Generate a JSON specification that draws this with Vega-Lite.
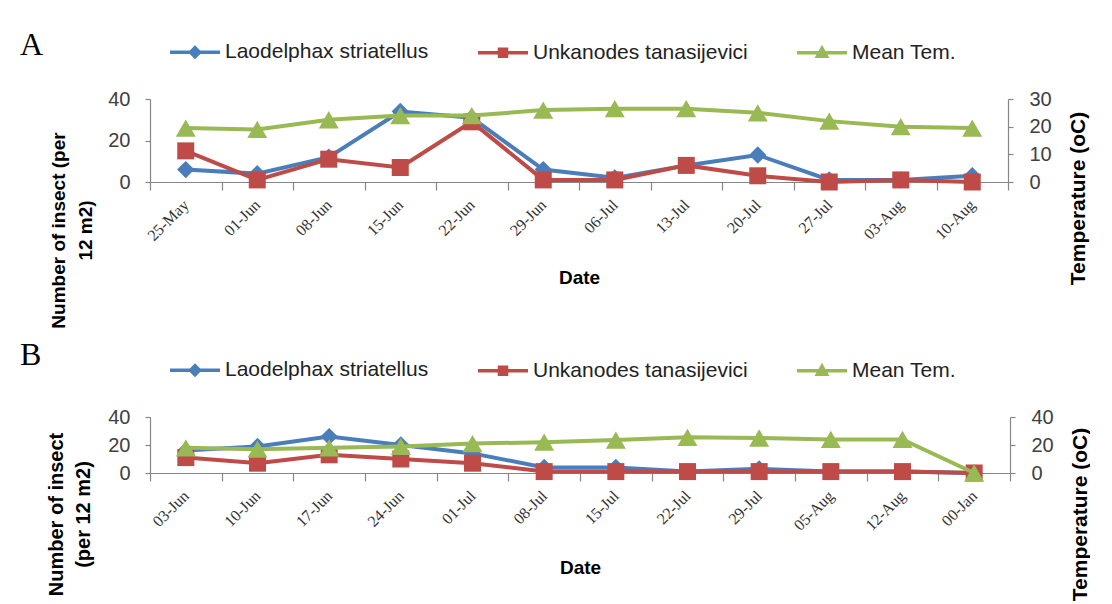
{
  "$schema": "https://vega.github.io/schema/vega-lite/v6.json",
  "background": "white",
  "padding": {"left": 20, "top": 25, "right": 0, "bottom": 0},
  "config": {
    "view": {"stroke": null},
    "font": "Liberation Sans",
    "axis": {"domainColor": "#868686", "tickColor": "#868686", "grid": false, "labelColor": "#404040", "titleColor": "#000000", "domainWidth": 1.2, "tickWidth": 1.2}
  },
  "datasets": {
    "a": [
      {"date": "25-May", "series": "Laodelphax striatellus", "value": 6},
      {"date": "01-Jun", "series": "Laodelphax striatellus", "value": 4},
      {"date": "08-Jun", "series": "Laodelphax striatellus", "value": 12},
      {"date": "15-Jun", "series": "Laodelphax striatellus", "value": 34},
      {"date": "22-Jun", "series": "Laodelphax striatellus", "value": 31},
      {"date": "29-Jun", "series": "Laodelphax striatellus", "value": 6},
      {"date": "06-Jul", "series": "Laodelphax striatellus", "value": 2},
      {"date": "13-Jul", "series": "Laodelphax striatellus", "value": 8},
      {"date": "20-Jul", "series": "Laodelphax striatellus", "value": 13},
      {"date": "27-Jul", "series": "Laodelphax striatellus", "value": 1},
      {"date": "03-Aug", "series": "Laodelphax striatellus", "value": 1},
      {"date": "10-Aug", "series": "Laodelphax striatellus", "value": 3},
      {"date": "25-May", "series": "Unkanodes tanasijevici", "value": 15},
      {"date": "01-Jun", "series": "Unkanodes tanasijevici", "value": 1},
      {"date": "08-Jun", "series": "Unkanodes tanasijevici", "value": 11},
      {"date": "15-Jun", "series": "Unkanodes tanasijevici", "value": 7},
      {"date": "22-Jun", "series": "Unkanodes tanasijevici", "value": 29},
      {"date": "29-Jun", "series": "Unkanodes tanasijevici", "value": 1},
      {"date": "06-Jul", "series": "Unkanodes tanasijevici", "value": 1},
      {"date": "13-Jul", "series": "Unkanodes tanasijevici", "value": 8},
      {"date": "20-Jul", "series": "Unkanodes tanasijevici", "value": 3},
      {"date": "27-Jul", "series": "Unkanodes tanasijevici", "value": 0},
      {"date": "03-Aug", "series": "Unkanodes tanasijevici", "value": 1},
      {"date": "10-Aug", "series": "Unkanodes tanasijevici", "value": 0},
      {"date": "25-May", "series": "Mean Tem.", "value": 19.5},
      {"date": "01-Jun", "series": "Mean Tem.", "value": 19},
      {"date": "08-Jun", "series": "Mean Tem.", "value": 22.5},
      {"date": "15-Jun", "series": "Mean Tem.", "value": 24},
      {"date": "22-Jun", "series": "Mean Tem.", "value": 24},
      {"date": "29-Jun", "series": "Mean Tem.", "value": 26},
      {"date": "06-Jul", "series": "Mean Tem.", "value": 26.5},
      {"date": "13-Jul", "series": "Mean Tem.", "value": 26.5},
      {"date": "20-Jul", "series": "Mean Tem.", "value": 25},
      {"date": "27-Jul", "series": "Mean Tem.", "value": 22},
      {"date": "03-Aug", "series": "Mean Tem.", "value": 20},
      {"date": "10-Aug", "series": "Mean Tem.", "value": 19.5}
    ],
    "b": [
      {"date": "03-Jun", "series": "Laodelphax striatellus", "value": 16},
      {"date": "10-Jun", "series": "Laodelphax striatellus", "value": 19},
      {"date": "17-Jun", "series": "Laodelphax striatellus", "value": 26},
      {"date": "24-Jun", "series": "Laodelphax striatellus", "value": 20},
      {"date": "01-Jul", "series": "Laodelphax striatellus", "value": 14},
      {"date": "08-Jul", "series": "Laodelphax striatellus", "value": 4},
      {"date": "15-Jul", "series": "Laodelphax striatellus", "value": 4},
      {"date": "22-Jul", "series": "Laodelphax striatellus", "value": 1},
      {"date": "29-Jul", "series": "Laodelphax striatellus", "value": 3},
      {"date": "05-Aug", "series": "Laodelphax striatellus", "value": 1},
      {"date": "12-Aug", "series": "Laodelphax striatellus", "value": 1},
      {"date": "00-Jan", "series": "Laodelphax striatellus", "value": 0},
      {"date": "03-Jun", "series": "Unkanodes tanasijevici", "value": 11},
      {"date": "10-Jun", "series": "Unkanodes tanasijevici", "value": 7},
      {"date": "17-Jun", "series": "Unkanodes tanasijevici", "value": 13},
      {"date": "24-Jun", "series": "Unkanodes tanasijevici", "value": 10},
      {"date": "01-Jul", "series": "Unkanodes tanasijevici", "value": 7},
      {"date": "08-Jul", "series": "Unkanodes tanasijevici", "value": 1},
      {"date": "15-Jul", "series": "Unkanodes tanasijevici", "value": 1},
      {"date": "22-Jul", "series": "Unkanodes tanasijevici", "value": 1},
      {"date": "29-Jul", "series": "Unkanodes tanasijevici", "value": 1},
      {"date": "05-Aug", "series": "Unkanodes tanasijevici", "value": 1},
      {"date": "12-Aug", "series": "Unkanodes tanasijevici", "value": 1},
      {"date": "00-Jan", "series": "Unkanodes tanasijevici", "value": 0},
      {"date": "03-Jun", "series": "Mean Tem.", "value": 18},
      {"date": "10-Jun", "series": "Mean Tem.", "value": 17},
      {"date": "17-Jun", "series": "Mean Tem.", "value": 18},
      {"date": "24-Jun", "series": "Mean Tem.", "value": 19},
      {"date": "01-Jul", "series": "Mean Tem.", "value": 21},
      {"date": "08-Jul", "series": "Mean Tem.", "value": 22},
      {"date": "15-Jul", "series": "Mean Tem.", "value": 23.5},
      {"date": "22-Jul", "series": "Mean Tem.", "value": 25.5},
      {"date": "29-Jul", "series": "Mean Tem.", "value": 25},
      {"date": "05-Aug", "series": "Mean Tem.", "value": 24},
      {"date": "12-Aug", "series": "Mean Tem.", "value": 24},
      {"date": "00-Jan", "series": "Mean Tem.", "value": 0}
    ]
  },
  "spacing": 8,
  "resolve": {
    "scale": {"x": "independent", "y": "independent", "color": "independent"},
    "legend": {"color": "independent"}
  },
  "vconcat": [
    {
      "data": {"name": "a"},
      "width": 858,
      "height": 83,
      "title": {"text": "A", "anchor": "start", "frame": "group", "font": "Liberation Serif", "fontSize": 32, "fontWeight": "normal", "color": "#000000", "dx": -130, "dy": 41},
      "encoding": {
        "x": {
          "field": "date", "type": "ordinal", "bandPosition": 0.5,
          "scale": {"type": "band", "paddingInner": 0, "paddingOuter": 0, "domain": ["25-May", "01-Jun", "08-Jun", "15-Jun", "22-Jun", "29-Jun", "06-Jul", "13-Jul", "20-Jul", "27-Jul", "03-Aug", "10-Aug"]},
          "axis": {"title": "Date", "titleFontSize": 19, "titleFontWeight": "bold", "titleY": 95, "titleBaseline": "middle", "labelAngle": -45, "labelAlign": "right", "labelBaseline": "middle", "labelFont": "Liberation Serif", "labelFontSize": 16, "labelColor": "#333333", "labelPadding": 12, "tickBand": "extent", "tickSize": 8, "labelOverlap": false}
        },
        "color": {"field": "series", "type": "nominal", "scale": {"domain": ["Laodelphax striatellus", "Unkanodes tanasijevici", "Mean Tem."], "range": ["#4A7EBB", "#BE4B48", "#98B954"]}, "legend": null}
      },
      "layer": [
        {
          "transform": [{"filter": "datum.series !== 'Mean Tem.'"}],
          "encoding": {
            "y": {"field": "value", "type": "quantitative", "scale": {"domain": [0, 40]},
              "axis": {"orient": "left", "values": [0, 20, 40], "title": ["Number of  insect (per", "12 m2)"], "titleFontSize": 19, "titleFontWeight": "bold", "titleY": 131, "titlePadding": 12, "titleLineHeight": 27, "labelFontSize": 20, "labelPadding": 15, "tickSize": 5}
            }
          },
          "layer": [
            {"mark": {"type": "line", "strokeWidth": 4},
             "encoding": {"color": {"field": "series", "type": "nominal", "legend": {
               "orient": "none", "legendX": 18, "legendY": -74, "direction": "horizontal", "title": null,
               "labelFont": "Liberation Sans", "labelFontSize": 21, "labelColor": "#222222", "labelOffset": 3, "labelLimit": 0,
               "symbolSize": 2500, "symbolStrokeWidth": 3.5, "columnPadding": 42,
               "encode": {"symbols": {"update": {
                 "shape": {"signal": "datum.value === 'Laodelphax striatellus' ? 'M-1,0H1M0,-0.18L0.18,0L0,0.18L-0.18,0Z' : datum.value === 'Unkanodes tanasijevici' ? 'M-1,0H1M-0.14,-0.14H0.14V0.14H-0.14Z' : 'M-1,0H1M0,-0.18L0.18,0.14H-0.18Z'"},
                 "fill": {"signal": "datum.value === 'Laodelphax striatellus' ? '#4A7EBB' : datum.value === 'Unkanodes tanasijevici' ? '#BE4B48' : '#98B954'"},
                 "stroke": {"signal": "datum.value === 'Laodelphax striatellus' ? '#4A7EBB' : datum.value === 'Unkanodes tanasijevici' ? '#BE4B48' : '#98B954'"},
                 "opacity": {"value": 1}
               }}}
             }}}},
            {"transform": [{"filter": "datum.series === 'Laodelphax striatellus'"}],
             "mark": {"type": "point", "filled": true, "opacity": 1, "strokeWidth": 0, "shape": "diamond", "size": 300}},
            {"transform": [{"filter": "datum.series === 'Unkanodes tanasijevici'"}],
             "mark": {"type": "point", "filled": true, "opacity": 1, "strokeWidth": 0, "shape": "square", "size": 289}}
          ]
        },
        {
          "transform": [{"filter": "datum.series === 'Mean Tem.'"}],
          "encoding": {
            "y": {"field": "value", "type": "quantitative", "scale": {"domain": [0, 30]},
              "axis": {"orient": "right", "values": [0, 10, 20, 30], "title": "Temperature (oC)", "titleAngle": -90, "titleAlign": "center", "titleBaseline": "bottom", "titleX": 80, "titleFontSize": 21, "titleFontWeight": "bold", "titleY": 99, "labelFontSize": 20, "labelPadding": 16, "tickSize": 5}
            }
          },
          "layer": [
            {"mark": {"type": "line", "strokeWidth": 4}},
            {"mark": {"type": "point", "filled": true, "opacity": 1, "strokeWidth": 0, "shape": "triangle-up", "size": 400}}
          ]
        }
      ],
      "resolve": {"scale": {"y": "independent"}}
    },
    {
      "data": {"name": "b"},
      "width": 860,
      "height": 56,
      "title": {"text": "B", "anchor": "start", "frame": "group", "font": "Liberation Serif", "fontSize": 32, "fontWeight": "normal", "color": "#000000", "dx": -130, "dy": 33},
      "encoding": {
        "x": {
          "field": "date", "type": "ordinal", "bandPosition": 0.5,
          "scale": {"type": "band", "paddingInner": 0, "paddingOuter": 0, "domain": ["03-Jun", "10-Jun", "17-Jun", "24-Jun", "01-Jul", "08-Jul", "15-Jul", "22-Jul", "29-Jul", "05-Aug", "12-Aug", "00-Jan"]},
          "axis": {"title": "Date", "titleFontSize": 19, "titleFontWeight": "bold", "titleY": 94, "titleBaseline": "middle", "labelAngle": -45, "labelAlign": "right", "labelBaseline": "middle", "labelFont": "Liberation Serif", "labelFontSize": 16, "labelColor": "#333333", "labelPadding": 12, "tickBand": "extent", "tickSize": 8, "labelOverlap": false}
        },
        "color": {"field": "series", "type": "nominal", "scale": {"domain": ["Laodelphax striatellus", "Unkanodes tanasijevici", "Mean Tem."], "range": ["#4A7EBB", "#BE4B48", "#98B954"]}, "legend": null}
      },
      "layer": [
        {
          "transform": [{"filter": "datum.series !== 'Mean Tem.'"}],
          "encoding": {
            "y": {"field": "value", "type": "quantitative", "scale": {"domain": [0, 40]},
              "axis": {"orient": "left", "values": [0, 20, 40], "title": ["Number of  insect", "(per 12 m2)"], "titleFontSize": 20, "titleFontWeight": "bold", "titleY": 97, "titlePadding": 14, "titleLineHeight": 27, "labelFontSize": 20, "labelPadding": 15, "tickSize": 5}
            }
          },
          "layer": [
            {"mark": {"type": "line", "strokeWidth": 4},
             "encoding": {"color": {"field": "series", "type": "nominal", "legend": {
               "orient": "none", "legendX": 18, "legendY": -74, "direction": "horizontal", "title": null,
               "labelFont": "Liberation Sans", "labelFontSize": 21, "labelColor": "#222222", "labelOffset": 3, "labelLimit": 0,
               "symbolSize": 2500, "symbolStrokeWidth": 3.5, "columnPadding": 42,
               "encode": {"symbols": {"update": {
                 "shape": {"signal": "datum.value === 'Laodelphax striatellus' ? 'M-1,0H1M0,-0.18L0.18,0L0,0.18L-0.18,0Z' : datum.value === 'Unkanodes tanasijevici' ? 'M-1,0H1M-0.14,-0.14H0.14V0.14H-0.14Z' : 'M-1,0H1M0,-0.18L0.18,0.14H-0.18Z'"},
                 "fill": {"signal": "datum.value === 'Laodelphax striatellus' ? '#4A7EBB' : datum.value === 'Unkanodes tanasijevici' ? '#BE4B48' : '#98B954'"},
                 "stroke": {"signal": "datum.value === 'Laodelphax striatellus' ? '#4A7EBB' : datum.value === 'Unkanodes tanasijevici' ? '#BE4B48' : '#98B954'"},
                 "opacity": {"value": 1}
               }}}
             }}}},
            {"transform": [{"filter": "datum.series === 'Laodelphax striatellus'"}],
             "mark": {"type": "point", "filled": true, "opacity": 1, "strokeWidth": 0, "shape": "diamond", "size": 300}},
            {"transform": [{"filter": "datum.series === 'Unkanodes tanasijevici'"}],
             "mark": {"type": "point", "filled": true, "opacity": 1, "strokeWidth": 0, "shape": "square", "size": 289}}
          ]
        },
        {
          "transform": [{"filter": "datum.series === 'Mean Tem.'"}],
          "encoding": {
            "y": {"field": "value", "type": "quantitative", "scale": {"domain": [0, 40]},
              "axis": {"orient": "right", "values": [0, 20, 40], "title": "Temperature (oC)", "titleAngle": -90, "titleAlign": "center", "titleBaseline": "bottom", "titleX": 80, "titleFontSize": 21, "titleFontWeight": "bold", "titleY": 97, "labelFontSize": 20, "labelPadding": 16, "tickSize": 5}
            }
          },
          "layer": [
            {"mark": {"type": "line", "strokeWidth": 4}},
            {"mark": {"type": "point", "filled": true, "opacity": 1, "strokeWidth": 0, "shape": "triangle-up", "size": 400}}
          ]
        }
      ],
      "resolve": {"scale": {"y": "independent"}}
    }
  ]
}
